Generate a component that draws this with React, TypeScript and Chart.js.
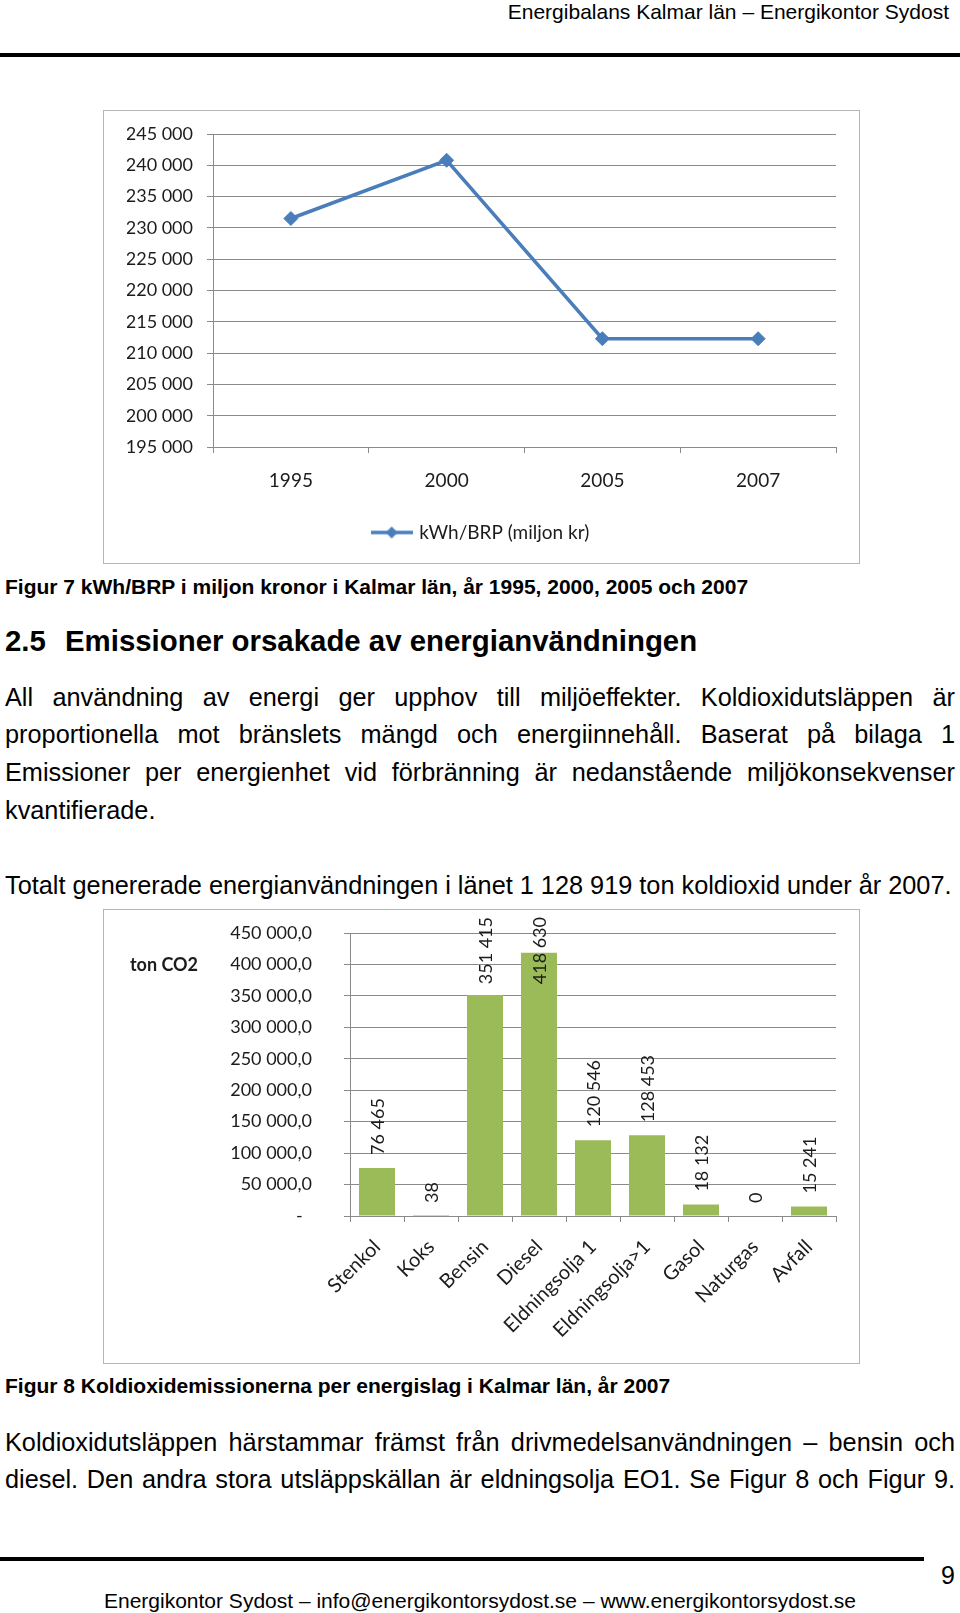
import React, { useEffect, useRef } from "react";
import { Chart, registerables } from "chart.js";

Chart.register(...registerables);

// ---------- data ----------
const years = ["1995", "2000", "2005", "2007"];
const kwhPerBrp = [231500, 240800, 212300, 212300];
const kwhSeriesLabel = "kWh/BRP (miljon kr)";
const kwhMin = 195000;
const kwhMax = 245000;
const kwhStep = 5000;

const fuels = [
  "Stenkol",
  "Koks",
  "Bensin",
  "Diesel",
  "Eldningsolja 1",
  "Eldningsolja>1",
  "Gasol",
  "Naturgas",
  "Avfall",
];
const co2Tons = [76465, 38, 351415, 418630, 120546, 128453, 18132, 0, 15241];
const co2AxisTitle = "ton CO2";
const co2Max = 450000;
const co2Step = 50000;

// ---------- styling ----------
const GRID = "#8a8a8a";
const TXT = "#1c1c1c";
const BLUE = "#4a7ebb";
const GREEN = "#9bbb59";
const CHART_FONT = "Lato, 'Open Sans', sans-serif";
const PAGE_FONT = "'Liberation Sans', Arial, Helvetica, sans-serif";

const groupThousands = (n: number) =>
  Math.round(n)
    .toString()
    .replace(/\B(?=(\d{3})+(?!\d))/g, " ");

function makeLegendMarker(): HTMLCanvasElement {
  const c = document.createElement("canvas");
  c.width = 42;
  c.height = 16;
  const g = c.getContext("2d")!;
  g.strokeStyle = BLUE;
  g.lineWidth = 3.5;
  g.beginPath();
  g.moveTo(0, 8);
  g.lineTo(42, 8);
  g.stroke();
  g.fillStyle = BLUE;
  g.beginPath();
  g.moveTo(21, 2);
  g.lineTo(27, 8);
  g.lineTo(21, 14);
  g.lineTo(15, 8);
  g.closePath();
  g.fill();
  return c;
}

function LineChart() {
  const ref = useRef<HTMLCanvasElement | null>(null);
  useEffect(() => {
    if (!ref.current) return;
    const chart = new Chart(ref.current, {
      type: "line",
      data: {
        labels: years,
        datasets: [
          {
            label: kwhSeriesLabel,
            data: kwhPerBrp,
            borderColor: BLUE,
            backgroundColor: BLUE,
            borderWidth: 3.5,
            pointStyle: "rectRot",
            pointRadius: 7,
            pointBackgroundColor: BLUE,
            pointBorderColor: BLUE,
            pointBorderWidth: 1,
            tension: 0,
          },
        ],
      },
      options: {
        animation: false,
        responsive: false,
        maintainAspectRatio: false,
        devicePixelRatio: 1,
        layout: { padding: { top: 23, right: 23, bottom: 11, left: 23 } },
        plugins: {
          legend: {
            position: "bottom",
            labels: {
              usePointStyle: true,
              pointStyle: makeLegendMarker() as any,
              pointStyleWidth: 36,
              padding: 10,
              color: TXT,
              font: { size: 19, family: CHART_FONT },
            },
          },
          tooltip: { enabled: false },
        },
        scales: {
          x: {
            offset: true,
            grid: {
              offset: true,
              drawOnChartArea: false,
              tickLength: 6,
              color: GRID,
            },
            border: { color: GRID },
            ticks: {
              padding: 16,
              maxRotation: 0,
              color: TXT,
              font: { size: 19, family: CHART_FONT },
            },
            afterFit: (s: any) => {
              s.height = 66;
            },
          },
          y: {
            min: kwhMin,
            max: kwhMax,
            grid: { color: GRID, tickLength: 6 },
            border: { color: GRID },
            ticks: {
              stepSize: kwhStep,
              padding: 14,
              color: TXT,
              font: { size: 18, family: CHART_FONT },
              callback: (v: any) => groupThousands(Number(v)),
            },
            afterFit: (s: any) => {
              s.width = 86;
              s.paddingTop = 0;
              s.paddingBottom = 0;
            },
          },
        },
      },
    });
    return () => chart.destroy();
  }, []);
  return (
    <canvas
      ref={ref}
      width={755}
      height={452}
      style={{ display: "block", width: 755, height: 452 }}
    />
  );
}

const barValueLabels = {
  id: "barValueLabels",
  afterDatasetsDraw(chart: any) {
    const ctx = chart.ctx;
    const meta = chart.getDatasetMeta(0);
    const values = chart.data.datasets[0].data as number[];
    ctx.save();
    ctx.font = `18px ${CHART_FONT}`;
    ctx.fillStyle = TXT;
    ctx.textAlign = "left";
    ctx.textBaseline = "alphabetic";
    meta.data.forEach((bar: any, i: number) => {
      const txt = groupThousands(values[i]);
      const w = ctx.measureText(txt).width;
      let bottom = bar.y - 13;
      if (bottom - w < 7) bottom = 7 + w;
      ctx.save();
      ctx.translate(bar.x, bottom);
      ctx.rotate(-Math.PI / 2);
      ctx.fillText(txt, 0, 6.5);
      ctx.restore();
    });
    ctx.restore();
  },
};

const axisTitlePlugin = {
  id: "axisTitlePlugin",
  afterDraw(chart: any) {
    const ctx = chart.ctx;
    ctx.save();
    ctx.font = `bold 18px ${CHART_FONT}`;
    ctx.fillStyle = TXT;
    ctx.textAlign = "center";
    ctx.textBaseline = "alphabetic";
    const y = chart.scales.y.getPixelForValue(co2Max - co2Step);
    ctx.fillText(co2AxisTitle, 60, y + 6.5);
    ctx.restore();
  },
};

function BarChart() {
  const ref = useRef<HTMLCanvasElement | null>(null);
  useEffect(() => {
    if (!ref.current) return;
    const chart = new Chart(ref.current, {
      type: "bar",
      data: {
        labels: fuels,
        datasets: [
          {
            label: co2AxisTitle,
            data: co2Tons,
            backgroundColor: GREEN,
            categoryPercentage: 1,
            barPercentage: 0.667,
          },
        ],
      },
      options: {
        animation: false,
        responsive: false,
        maintainAspectRatio: false,
        devicePixelRatio: 1,
        layout: { padding: { top: 23, right: 23, bottom: 0, left: 0 } },
        plugins: {
          legend: { display: false },
          tooltip: { enabled: false },
        },
        scales: {
          x: {
            grid: {
              offset: true,
              drawOnChartArea: false,
              tickLength: 6,
              color: GRID,
            },
            border: { color: GRID },
            ticks: {
              autoSkip: false,
              minRotation: 45,
              maxRotation: 45,
              padding: 13,
              color: TXT,
              font: { size: 20, family: CHART_FONT },
            },
            afterFit: (s: any) => {
              s.height = 147;
            },
          },
          y: {
            min: 0,
            max: co2Max,
            grid: { color: GRID, tickLength: 6 },
            border: { color: GRID },
            ticks: {
              stepSize: co2Step,
              padding: 32,
              color: TXT,
              font: { size: 18, family: CHART_FONT },
              callback: (v: any) =>
                Number(v) === 0 ? "-  " : groupThousands(Number(v)) + ",0",
            },
            afterFit: (s: any) => {
              s.width = 246;
              s.paddingTop = 0;
              s.paddingBottom = 0;
            },
          },
        },
      },
      plugins: [barValueLabels, axisTitlePlugin],
    });
    return () => chart.destroy();
  }, []);
  return (
    <canvas
      ref={ref}
      width={755}
      height={453}
      style={{ display: "block", width: 755, height: 453 }}
    />
  );
}

type TProps = {
  y: number;
  size: number;
  bold?: boolean;
  left?: number;
  width?: number;
  align?: "left" | "right" | "center";
  justify?: boolean;
  children: React.ReactNode;
};

function T({ y, size, bold, left = 5, width = 950, align = "left", justify, children }: TProps) {
  const lh = Math.round(size * 1.2);
  return (
    <div
      style={{
        position: "absolute",
        left,
        top: y - lh / 2,
        width,
        height: lh,
        lineHeight: `${lh}px`,
        fontSize: size,
        fontWeight: bold ? 700 : 400,
        whiteSpace: "nowrap",
        textAlign: justify ? "justify" : align,
        textAlignLast: justify ? "justify" : (align as any),
      }}
    >
      {children}
    </div>
  );
}

export default function App() {
  return (
    <div
      style={{
        position: "absolute",
        left: 0,
        top: 0,
        width: 960,
        height: 1613,
        background: "#fff",
        fontFamily: PAGE_FONT,
        color: "#000",
        overflow: "hidden",
      }}
    >
      <T y={11} size={21} left={0} width={949} align="right">
        Energibalans Kalmar län – Energikontor Sydost
      </T>
      <div style={{ position: "absolute", left: 0, top: 53, width: 960, height: 4, background: "#000" }} />

      <div
        style={{
          position: "absolute",
          left: 103,
          top: 110,
          width: 757,
          height: 454,
          border: "1px solid #b5b5b5",
          boxSizing: "border-box",
        }}
      >
        <LineChart />
      </div>

      <T y={586.5} size={21} bold>
        Figur 7 kWh/BRP i miljon kronor i Kalmar län, år 1995, 2000, 2005 och 2007
      </T>
      <T y={640} size={29.4} bold>
        2.5
      </T>
      <T y={640} size={29.4} bold left={65}>
        Emissioner orsakade av energianvändningen
      </T>

      <T y={697} size={25.3} justify>
        All användning av energi ger upphov till miljöeffekter. Koldioxidutsläppen är
      </T>
      <T y={734} size={25.3} justify>
        proportionella mot bränslets mängd och energiinnehåll. Baserat på bilaga 1
      </T>
      <T y={772} size={25.3} justify>
        Emissioner per energienhet vid förbränning är nedanstående miljökonsekvenser
      </T>
      <T y={810} size={25.3}>
        kvantifierade.
      </T>
      <T y={885} size={25.3}>
        Totalt genererade energianvändningen i länet 1 128 919 ton koldioxid under år 2007.
      </T>

      <div
        style={{
          position: "absolute",
          left: 103,
          top: 909,
          width: 757,
          height: 455,
          border: "1px solid #b5b5b5",
          boxSizing: "border-box",
        }}
      >
        <BarChart />
      </div>

      <T y={1385} size={21} bold>
        Figur 8 Koldioxidemissionerna per energislag i Kalmar län, år 2007
      </T>
      <T y={1442} size={25.3} justify>
        Koldioxidutsläppen härstammar främst från drivmedelsanvändningen – bensin och
      </T>
      <T y={1479} size={25.3} justify>
        diesel. Den andra stora utsläppskällan är eldningsolja EO1. Se Figur 8 och Figur 9.
      </T>

      <div style={{ position: "absolute", left: 0, top: 1557, width: 924, height: 4, background: "#000" }} />
      <T y={1575} size={25} left={0} width={955} align="right">
        9
      </T>
      <T y={1600} size={21} left={0} width={960} align="center">
        Energikontor Sydost – info@energikontorsydost.se – www.energikontorsydost.se
      </T>
    </div>
  );
}
